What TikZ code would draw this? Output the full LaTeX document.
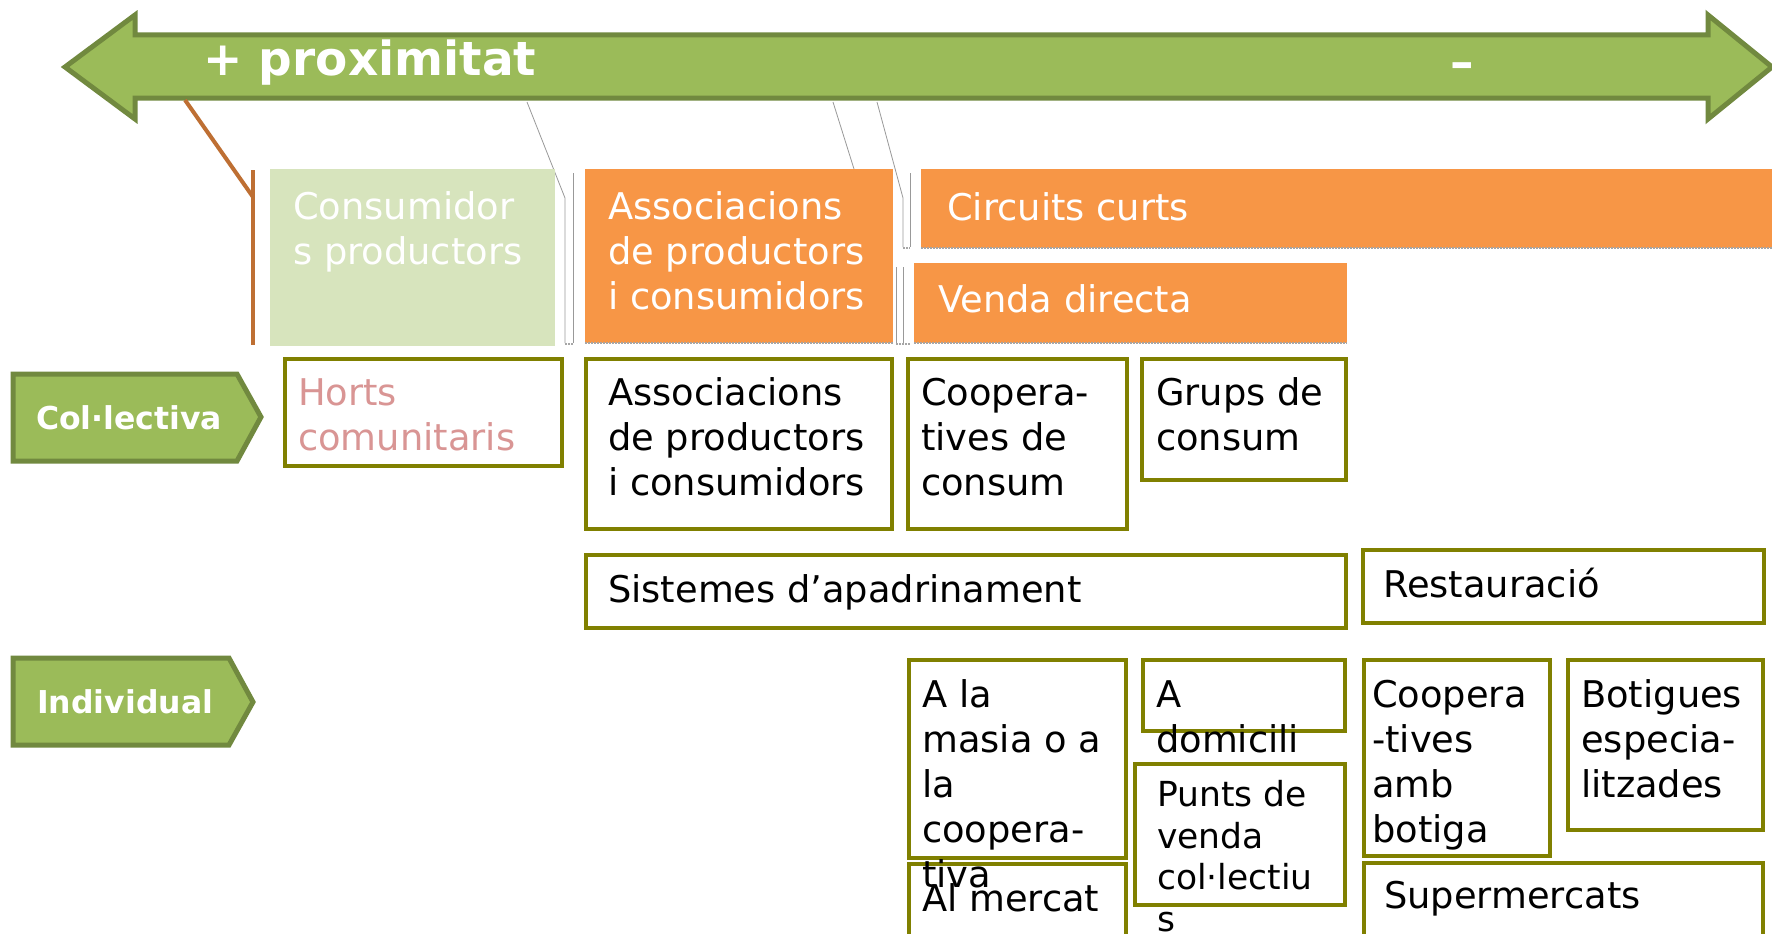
\documentclass[tikz,border=0pt]{standalone}
\usepackage{fontspec}
\setmainfont{DejaVu Sans}
\definecolor{agreen}{HTML}{9BBB59}
\definecolor{dgreen}{HTML}{71893F}
\definecolor{aorange}{HTML}{F79646}
\definecolor{lgreen}{HTML}{D7E4BD}
\definecolor{olive}{HTML}{808000}
\definecolor{pinktxt}{HTML}{D99594}
\definecolor{brownline}{HTML}{BE6F33}
\tikzset{
  obox/.style={draw=olive, line width=4pt, fill=white, inner sep=0pt, outer sep=0pt, anchor=north west},
  fbox/.style={inner sep=0pt, outer sep=0pt, anchor=north west},
  txt/.style={anchor=base west, inner sep=0pt, align=left, font=\fontsize{36.8}{45}\selectfont},
  wtxt/.style={txt, text=white},
  lbl/.style={anchor=base west, inner sep=0pt, text=white, font=\fontsize{31.5}{38}\selectfont\bfseries},
  greenshape/.style={fill=agreen, draw=dgreen, line width=5pt, line join=miter},
  callout/.style={draw=gray!80, line width=0.8pt},
  shade/.style={draw=gray!70, line width=2pt, densely dotted}
}
\begin{document}
\begin{tikzpicture}[x=1pt,y=-1pt]
\clip (0,0) rectangle (1772,934);
\fill[white] (0,0) rectangle (1772,934);

% top double arrow
\path[greenshape] (65,67) -- (135,15) -- (135,35) -- (1708,35) -- (1708,15) -- (1772,67)
   -- (1708,119) -- (1708,98) -- (135,98) -- (135,119) -- cycle;
\node[anchor=base west, inner sep=0pt, text=white, font=\fontsize{47}{56}\selectfont\bfseries] (prox) at (203,76) {+ proximitat};
\node[anchor=base west, inner sep=0pt, text=white, font=\fontsize{47}{56}\selectfont\bfseries] (minus) at (1450,78) {–};

% callout lines
\coordinate (b1) at (185,100);
\coordinate (b2) at (253,197);
\draw[brownline, line width=4pt] (b1) -- (b2);
\draw[brownline, line width=4pt] (253,170) -- (253,345);

\draw[callout] (527,102) -- (565,198) -- (565,343);
\draw[callout] (573,173) -- (573,343);
\draw[callout] (833,102) -- (854,169);
\draw[callout] (877,102) -- (903,198) -- (903,247);
\draw[callout] (910,173) -- (910,247);
\draw[callout] (896,267) -- (896,343);
\draw[callout] (903,267) -- (903,343);

% filled header boxes (text anchored at the baseline of its last line)
\node[fbox, fill=lgreen, minimum width=285pt, minimum height=177pt] (consprod) at (270,169) {};
\node[wtxt] at (293,264) {Consumidor\\s productors};

\node[fbox, fill=aorange, minimum width=308pt, minimum height=174pt] (assocO) at (585,169) {};
\node[wtxt] at (608,309) {Associacions\\de productors\\i consumidors};

\node[fbox, fill=aorange, minimum width=860pt, minimum height=79pt] (circuits) at (921,169) {};
\node[wtxt] at (947,220) {Circuits curts};

\node[fbox, fill=aorange, minimum width=433pt, minimum height=80pt] (venda) at (914,263) {};
\node[wtxt] at (938,312) {Venda directa};

\draw[shade] (assocO.south west) -- (assocO.south east);
\draw[shade] (circuits.south west) -- (circuits.south east);
\draw[shade] (venda.south west) -- (venda.south east);
\draw[shade] (565,344) -- (573,344);
\draw[shade] (896,344) -- (910,344);
\draw[shade] (903,248) -- (910,248);

% side labels
\path[greenshape] (13,374) -- (237,374) -- (261,417) -- (237,461) -- (13,461) -- cycle;
\node[lbl] (coll) at (36,429) {Col·lectiva};
\path[greenshape] (13,658) -- (229,658) -- (253,702) -- (229,745) -- (13,745) -- cycle;
\node[lbl] (indiv) at (37,713) {Individual};

% collective row
\node[obox, minimum width=277pt, minimum height=107pt] (horts) at (285,359) {};
\node[txt, text=pinktxt] at (298,450) {Horts\\comunitaris};

\node[obox, minimum width=306pt, minimum height=170pt] (assocW) at (586,359) {};
\node[txt] at (608,495) {Associacions\\de productors\\i consumidors};

\node[obox, minimum width=219pt, minimum height=170pt] (coop) at (908,359) {};
\node[txt] at (921,495) {Coopera-\\tives de\\consum};

\node[obox, minimum width=204pt, minimum height=121pt] (grups) at (1142,359) {};
\node[txt] at (1156,450) {Grups de\\consum};

\node[obox, minimum width=760pt, minimum height=73pt] (sist) at (586,555) {};
\node[txt] at (608,602) {Sistemes d’apadrinament};

\node[obox, minimum width=401pt, minimum height=73pt] (rest) at (1363,550) {};
\node[txt] at (1383,597) {Restauració};

% individual row
\node[obox, minimum width=217pt, minimum height=198pt] (masia) at (909,660) {};
\node[obox, minimum width=217pt, minimum height=140pt] (mercat) at (909,864) {};
\node[txt] at (922,887) {A la\\masia o a\\la\\coopera-\\tiva};
\node[txt] at (922,911) {Al mercat};

\node[obox, minimum width=202pt, minimum height=71pt] (domi) at (1143,660) {};
\node[txt] at (1156,752) {A\\domicili};

\node[obox, fill=none, minimum width=210pt, minimum height=141pt] (punts) at (1135,764) {};
\node[txt, font=\fontsize{34.5}{41.5}\selectfont] at (1157,931) {Punts de\\venda\\col·lectiu\\s};

\node[obox, minimum width=186pt, minimum height=196pt] (coopbot) at (1364,660) {};
\node[txt] at (1372,842) {Coopera\\-tives\\amb\\botiga};

\node[obox, minimum width=195pt, minimum height=170pt] (botig) at (1568,660) {};
\node[txt] at (1581,797) {Botigues\\especia-\\litzades};

\node[obox, minimum width=399pt, minimum height=140pt] (super) at (1364,863) {};
\node[txt] at (1384,908) {Supermercats};
\end{tikzpicture}
\end{document}
